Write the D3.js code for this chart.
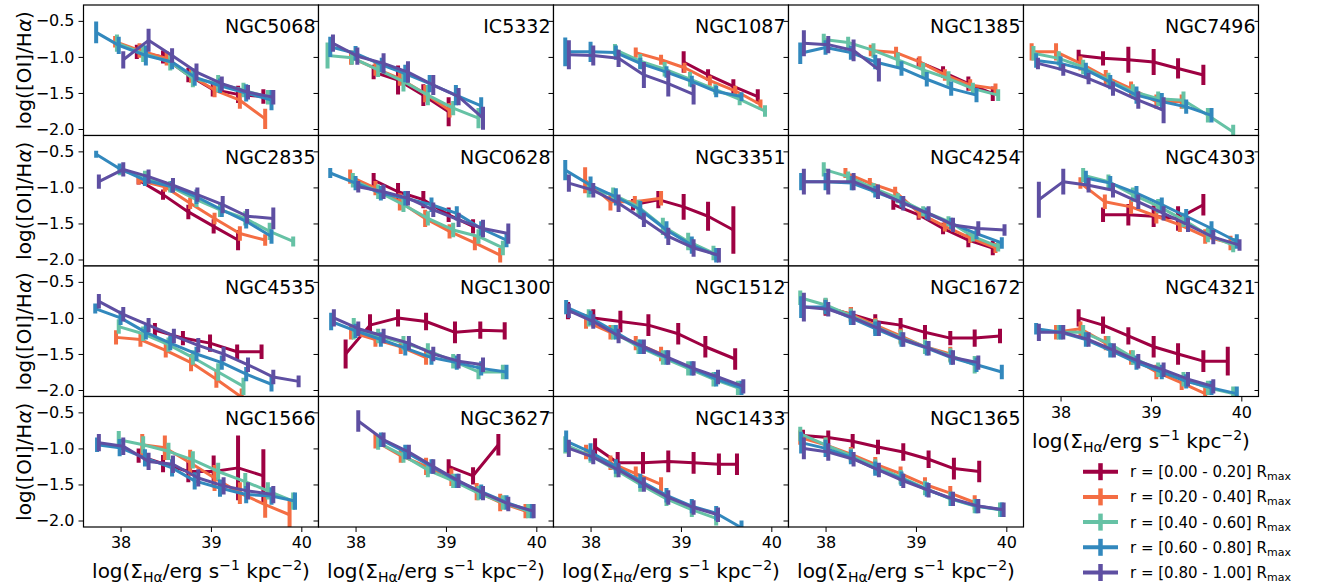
<!DOCTYPE html>
<html><head><meta charset="utf-8">
<script src="https://cdn.jsdelivr.net/npm/d3@7"></script>
<style>body{margin:0;background:#fff} text{font-family:"DejaVu Sans",sans-serif;fill:#000}</style>
</head><body><svg id="c" width="1322" height="586"></svg>
<script>
const galaxies = ["NGC5068","IC5332","NGC1087","NGC1385","NGC7496",
  "NGC2835","NGC0628","NGC3351","NGC4254","NGC4303",
  "NGC4535","NGC1300","NGC1512","NGC1672","NGC4321",
  "NGC1566","NGC3627","NGC1433","NGC1365"];
const binLabels = ["0.00 - 0.20","0.20 - 0.40","0.40 - 0.60","0.60 - 0.80","0.80 - 1.00"];
const colors = ["#9e0142","#f46d43","#66c2a5","#3288bd","#5e4fa2"];
const xTicks = [38,39,40];
const yTicks = [-0.5,-1.0,-1.5,-2.0];
// each galaxy: 5 radial bins, each a list of [log Sigma_Ha, log([OI]/Ha), error]
const NGC5068 = [
 [[38.18,-0.93,0.1],[38.47,-1.0,0.09],[38.75,-1.25,0.1],[39.02,-1.45,0.1],[39.30,-1.52,0.12],[39.58,-1.55,0.1]],
 [[37.94,-0.79,0.08],[38.21,-0.91,0.1],[38.51,-1.02,0.1],[38.78,-1.26,0.1],[39.04,-1.46,0.1],[39.32,-1.60,0.12],[39.60,-1.86,0.14]],
 [[37.96,-0.81,0.12],[38.25,-0.95,0.12],[38.55,-1.07,0.12],[38.80,-1.30,0.12],[39.08,-1.37,0.12],[39.36,-1.46,0.1],[39.63,-1.56,0.1]],
 [[37.73,-0.66,0.15],[37.98,-0.84,0.12],[38.28,-0.98,0.14],[38.57,-1.07,0.1],[38.82,-1.28,0.12],[39.10,-1.40,0.1],[39.39,-1.50,0.12],[39.67,-1.60,0.14]],
 [[38.03,-1.04,0.12],[38.31,-0.77,0.16],[38.57,-0.98,0.1],[38.84,-1.21,0.12],[39.12,-1.37,0.1],[39.41,-1.49,0.1],[39.69,-1.56,0.1]]];
const IC5332 = [
 [[38.20,-1.21,0.1],[38.47,-1.32,0.2],[38.75,-1.53,0.15],[39.03,-1.76,0.2]],
 [[37.95,-1.01,0.1],[38.22,-1.16,0.1],[38.49,-1.30,0.1],[38.77,-1.51,0.12],[39.04,-1.74,0.1]],
 [[37.69,-0.98,0.18],[37.96,-1.01,0.1],[38.25,-1.18,0.1],[38.53,-1.34,0.14],[38.80,-1.53,0.14],[39.08,-1.71,0.1],[39.36,-1.85,0.14]],
 [[37.72,-0.86,0.14],[38.0,-0.95,0.1],[38.29,-1.11,0.1],[38.55,-1.23,0.12],[38.82,-1.37,0.12],[39.11,-1.53,0.14],[39.39,-1.68,0.12]],
 [[37.75,-0.81,0.12],[38.02,-0.99,0.12],[38.31,-1.09,0.14],[38.58,-1.21,0.15],[38.86,-1.39,0.14],[39.14,-1.55,0.12],[39.41,-1.85,0.16]]];
const NGC1087 = [
 [[39.03,-1.07,0.15],[39.30,-1.25,0.08],[39.58,-1.41,0.1],[39.85,-1.55,0.1]],
 [[38.50,-0.94,0.07],[38.78,-1.04,0.07],[39.04,-1.15,0.07],[39.32,-1.33,0.07],[39.60,-1.47,0.07],[39.88,-1.66,0.07]],
 [[38.27,-0.90,0.08],[38.55,-1.06,0.1],[38.82,-1.17,0.1],[39.10,-1.31,0.1],[39.38,-1.45,0.07],[39.65,-1.59,0.08],[39.93,-1.75,0.08]],
 [[37.72,-0.93,0.2],[38.0,-0.93,0.14],[38.28,-0.94,0.1],[38.55,-1.09,0.08],[38.84,-1.21,0.08],[39.12,-1.34,0.08],[39.39,-1.48,0.08],[39.67,-1.55,0.06]],
 [[37.76,-0.97,0.2],[38.03,-0.98,0.14],[38.31,-1.02,0.12],[38.59,-1.25,0.18],[38.86,-1.37,0.18],[39.14,-1.52,0.14]]];
const NGC1385 = [
 [[39.03,-1.07,0.06],[39.30,-1.21,0.08],[39.58,-1.37,0.1],[39.85,-1.51,0.1]],
 [[38.50,-0.91,0.08],[38.78,-0.94,0.08],[39.04,-1.07,0.08],[39.32,-1.25,0.08],[39.60,-1.39,0.08],[39.88,-1.44,0.07]],
 [[37.98,-0.76,0.08],[38.25,-0.80,0.08],[38.53,-0.91,0.1],[38.80,-1.04,0.1],[39.08,-1.18,0.1],[39.36,-1.30,0.1],[39.63,-1.44,0.08],[39.91,-1.53,0.08]],
 [[37.72,-0.95,0.15],[38.0,-0.87,0.1],[38.28,-0.94,0.1],[38.55,-1.07,0.1],[38.84,-1.16,0.1],[39.12,-1.31,0.1],[39.39,-1.44,0.1],[39.67,-1.53,0.1]],
 [[37.76,-0.81,0.18],[38.03,-0.83,0.12],[38.31,-0.91,0.15],[38.59,-1.18,0.16]]];
const NGC7496 = [
 [[38.20,-0.98,0.08],[38.47,-1.02,0.1],[38.75,-1.04,0.18],[39.03,-1.07,0.18],[39.30,-1.16,0.14],[39.58,-1.25,0.14]],
 [[37.68,-0.93,0.12],[37.95,-0.93,0.12],[38.22,-1.09,0.1],[38.50,-1.28,0.1],[38.78,-1.44,0.1],[39.06,-1.62,0.1],[39.34,-1.62,0.1]],
 [[37.70,-0.95,0.1],[37.98,-1.02,0.1],[38.25,-1.14,0.1],[38.53,-1.32,0.1],[38.80,-1.48,0.1],[39.08,-1.58,0.1],[39.36,-1.60,0.12],[39.63,-1.81,0.1],[39.91,-2.04,0.1]],
 [[37.73,-1.05,0.1],[38.0,-1.09,0.1],[38.28,-1.18,0.1],[38.55,-1.35,0.1],[38.84,-1.53,0.12],[39.12,-1.62,0.12],[39.39,-1.69,0.1],[39.67,-1.81,0.1]],
 [[37.75,-1.09,0.08],[38.03,-1.18,0.08],[38.31,-1.30,0.08],[38.58,-1.44,0.1],[38.86,-1.60,0.12],[39.14,-1.74,0.18]]];
const NGC2835 = [
 [[38.20,-0.90,0.06],[38.47,-1.10,0.07],[38.75,-1.34,0.1],[39.03,-1.54,0.1],[39.30,-1.73,0.14]],
 [[38.20,-0.90,0.06],[38.49,-0.99,0.07],[38.77,-1.22,0.08],[39.04,-1.43,0.08],[39.32,-1.64,0.1],[39.60,-1.73,0.08]],
 [[37.99,-0.76,0.07],[38.27,-0.85,0.08],[38.55,-0.99,0.08],[38.84,-1.17,0.1],[39.10,-1.31,0.1],[39.38,-1.43,0.1],[39.65,-1.61,0.12],[39.91,-1.75,0.07]],
 [[37.73,-0.54,0.05],[37.99,-0.74,0.07],[38.27,-0.90,0.08],[38.57,-0.99,0.08],[38.84,-1.13,0.1],[39.12,-1.31,0.1],[39.39,-1.47,0.1],[39.67,-1.68,0.1]],
 [[37.76,-0.92,0.1],[38.03,-0.75,0.1],[38.31,-0.85,0.1],[38.58,-0.97,0.1],[38.85,-1.10,0.1],[39.13,-1.24,0.12],[39.40,-1.40,0.1],[39.69,-1.43,0.15]]];
const NGC0628 = [
 [[38.20,-0.90,0.1],[38.47,-1.06,0.12],[38.75,-1.17,0.12],[39.03,-1.38,0.1],[39.30,-1.54,0.1]],
 [[37.94,-0.85,0.1],[38.22,-1.01,0.1],[38.49,-1.20,0.12],[38.77,-1.43,0.12],[39.04,-1.61,0.1],[39.32,-1.77,0.1],[39.60,-1.94,0.1]],
 [[37.97,-0.90,0.1],[38.25,-1.06,0.1],[38.53,-1.24,0.1],[38.80,-1.43,0.1],[39.08,-1.59,0.1],[39.36,-1.68,0.1],[39.63,-1.84,0.1]],
 [[37.72,-0.80,0.07],[38.0,-0.94,0.1],[38.28,-1.08,0.1],[38.55,-1.15,0.1],[38.84,-1.24,0.1],[39.12,-1.36,0.1],[39.39,-1.57,0.1],[39.67,-1.73,0.1]],
 [[38.03,-0.99,0.08],[38.31,-1.06,0.1],[38.58,-1.15,0.1],[38.86,-1.31,0.1],[39.14,-1.45,0.1],[39.41,-1.57,0.12],[39.69,-1.64,0.14]]];
const NGC3351 = [
 [[38.47,-1.24,0.08],[38.75,-1.17,0.12],[39.03,-1.27,0.18],[39.30,-1.40,0.2],[39.58,-1.59,0.33]],
 [[37.94,-0.90,0.18],[38.22,-1.20,0.12],[38.49,-1.20,0.08],[38.78,-1.15,0.1]],
 [[37.98,-1.04,0.1],[38.25,-1.10,0.1],[38.53,-1.27,0.1],[38.80,-1.54,0.12],[39.08,-1.75,0.12],[39.36,-1.91,0.1]],
 [[37.72,-0.76,0.14],[38.0,-0.97,0.12],[38.28,-1.13,0.12],[38.55,-1.31,0.12],[38.84,-1.59,0.12],[39.12,-1.80,0.12],[39.39,-1.94,0.1]],
 [[37.76,-0.94,0.12],[38.03,-1.04,0.1],[38.31,-1.22,0.12],[38.59,-1.45,0.1],[38.86,-1.68,0.12],[39.14,-1.84,0.12],[39.42,-1.94,0.1]]];
const NGC4254 = [
 [[38.75,-1.24,0.07],[39.03,-1.38,0.07],[39.30,-1.57,0.08],[39.58,-1.73,0.1],[39.85,-1.84,0.1]],
 [[38.22,-0.80,0.07],[38.49,-0.94,0.07],[38.77,-1.06,0.07],[39.04,-1.36,0.07],[39.32,-1.54,0.07],[39.60,-1.70,0.07],[39.88,-1.84,0.07]],
 [[37.98,-0.75,0.1],[38.25,-0.85,0.07],[38.53,-1.01,0.07],[38.80,-1.15,0.07],[39.08,-1.33,0.07],[39.36,-1.47,0.07],[39.63,-1.68,0.07],[39.91,-1.82,0.07]],
 [[37.73,-0.92,0.12],[38.0,-0.92,0.12],[38.29,-0.94,0.1],[38.55,-1.06,0.08],[38.84,-1.20,0.08],[39.12,-1.36,0.08],[39.39,-1.50,0.08],[39.67,-1.64,0.08],[39.95,-1.77,0.08]],
 [[37.76,-0.92,0.18],[38.03,-0.92,0.18],[38.31,-0.92,0.12],[38.58,-1.06,0.1],[38.86,-1.22,0.1],[39.14,-1.36,0.1],[39.41,-1.52,0.1],[39.69,-1.57,0.1],[39.98,-1.59,0.08]]];
const NGC4303 = [
 [[38.47,-1.38,0.1],[38.75,-1.38,0.15],[39.03,-1.40,0.15],[39.30,-1.43,0.17],[39.58,-1.24,0.15]],
 [[38.22,-0.94,0.08],[38.49,-1.20,0.1],[38.78,-1.27,0.1],[39.06,-1.40,0.1],[39.32,-1.52,0.1],[39.60,-1.68,0.1],[39.88,-1.77,0.1]],
 [[38.25,-0.83,0.1],[38.53,-0.92,0.1],[38.80,-1.10,0.1],[39.08,-1.26,0.1],[39.36,-1.45,0.1],[39.63,-1.66,0.1],[39.91,-1.80,0.1]],
 [[38.28,-0.87,0.1],[38.55,-0.94,0.1],[38.84,-1.08,0.1],[39.12,-1.24,0.1],[39.39,-1.40,0.1],[39.67,-1.57,0.1],[39.95,-1.75,0.1]],
 [[37.76,-1.17,0.25],[38.03,-0.92,0.18],[38.31,-0.97,0.1],[38.58,-1.04,0.1],[38.86,-1.20,0.1],[39.14,-1.36,0.1],[39.41,-1.52,0.1],[39.69,-1.69,0.1],[39.98,-1.80,0.08]]];
const NGC4535 = [
 [[38.38,-1.17,0.1],[38.69,-1.28,0.1],[38.99,-1.35,0.12],[39.29,-1.47,0.1],[39.56,-1.47,0.1]],
 [[37.95,-1.27,0.1],[38.22,-1.3,0.1],[38.50,-1.45,0.1],[38.78,-1.62,0.12],[39.06,-1.85,0.12],[39.34,-2.1,0.12]],
 [[37.98,-1.12,0.1],[38.25,-1.22,0.1],[38.53,-1.37,0.1],[38.80,-1.55,0.1],[39.08,-1.75,0.12],[39.36,-1.95,0.12]],
 [[37.72,-0.87,0.07],[38.0,-1.0,0.1],[38.28,-1.2,0.1],[38.55,-1.35,0.1],[38.84,-1.5,0.1],[39.12,-1.62,0.1],[39.39,-1.78,0.1],[39.67,-1.92,0.1]],
 [[37.76,-0.77,0.1],[38.03,-0.95,0.1],[38.31,-1.1,0.1],[38.59,-1.25,0.1],[38.86,-1.38,0.1],[39.14,-1.5,0.1],[39.41,-1.65,0.1],[39.69,-1.82,0.1],[39.97,-1.88,0.08]]];
const NGC1300 = [
 [[37.89,-1.5,0.2],[38.16,-1.1,0.15],[38.47,-1.0,0.12],[38.78,-1.05,0.12],[39.10,-1.2,0.15],[39.38,-1.17,0.12],[39.65,-1.18,0.12]],
 [[37.95,-1.2,0.1],[38.22,-1.3,0.1],[38.50,-1.4,0.1],[38.78,-1.55,0.1]],
 [[37.98,-1.15,0.15],[38.25,-1.25,0.1],[38.53,-1.35,0.1],[38.80,-1.45,0.1],[39.08,-1.6,0.1],[39.36,-1.75,0.1],[39.63,-1.75,0.1]],
 [[37.73,-1.05,0.12],[38.0,-1.18,0.1],[38.28,-1.3,0.1],[38.55,-1.42,0.1],[38.84,-1.55,0.1],[39.12,-1.62,0.1],[39.39,-1.7,0.1],[39.67,-1.75,0.1]],
 [[37.76,-1.0,0.12],[38.03,-1.15,0.1],[38.31,-1.25,0.1],[38.59,-1.35,0.1],[38.86,-1.5,0.1],[39.14,-1.6,0.1],[39.41,-1.65,0.1]]];
const NGC1512 = [
 [[37.75,-0.9,0.12],[38.03,-1.0,0.12],[38.33,-1.05,0.15],[38.64,-1.1,0.15],[38.97,-1.22,0.15],[39.27,-1.4,0.15],[39.60,-1.57,0.15]],
 [[37.95,-1.05,0.1],[38.22,-1.2,0.1],[38.50,-1.35,0.1],[38.78,-1.5,0.1]],
 [[37.98,-1.0,0.12],[38.25,-1.2,0.1],[38.53,-1.4,0.1],[38.80,-1.55,0.1],[39.08,-1.7,0.1],[39.36,-1.85,0.1],[39.63,-1.97,0.1]],
 [[37.73,-0.85,0.1],[38.0,-1.0,0.1],[38.28,-1.2,0.1],[38.55,-1.4,0.1],[38.84,-1.55,0.1],[39.12,-1.7,0.1],[39.39,-1.85,0.1],[39.67,-1.97,0.1]],
 [[37.76,-0.9,0.1],[38.03,-1.05,0.1],[38.31,-1.25,0.1],[38.59,-1.4,0.1],[38.86,-1.55,0.1],[39.14,-1.7,0.1],[39.41,-1.82,0.1],[39.69,-1.95,0.1]]];
const NGC1672 = [
 [[38.0,-0.85,0.12],[38.28,-0.95,0.1],[38.55,-1.05,0.1],[38.83,-1.1,0.1],[39.10,-1.2,0.1],[39.38,-1.28,0.1],[39.65,-1.28,0.12],[39.93,-1.25,0.1]],
 [[38.0,-0.85,0.1],[38.28,-0.95,0.1],[38.55,-1.1,0.1],[38.83,-1.25,0.1],[39.10,-1.4,0.1],[39.38,-1.5,0.1]],
 [[37.72,-0.72,0.1],[38.0,-0.82,0.1],[38.28,-0.97,0.1],[38.55,-1.12,0.1],[38.83,-1.27,0.1],[39.10,-1.4,0.1],[39.38,-1.52,0.1],[39.65,-1.65,0.12]],
 [[37.73,-0.85,0.15],[38.0,-0.85,0.1],[38.28,-1.0,0.1],[38.55,-1.15,0.1],[38.84,-1.3,0.1],[39.12,-1.42,0.1],[39.39,-1.55,0.1],[39.67,-1.65,0.1],[39.95,-1.75,0.1]],
 [[37.76,-0.85,0.2],[38.03,-0.88,0.1],[38.31,-1.0,0.1],[38.59,-1.15,0.1],[38.86,-1.3,0.1],[39.14,-1.42,0.1],[39.41,-1.55,0.1],[39.69,-1.62,0.1]]];
const NGC4321 = [
 [[38.20,-1.0,0.12],[38.47,-1.1,0.12],[38.75,-1.25,0.12],[39.03,-1.4,0.15],[39.30,-1.5,0.15],[39.58,-1.6,0.15],[39.85,-1.6,0.2]],
 [[37.95,-1.2,0.1],[38.22,-1.15,0.1],[38.50,-1.35,0.1],[38.78,-1.55,0.1],[39.06,-1.75,0.1],[39.34,-1.9,0.1],[39.60,-2.05,0.1]],
 [[37.98,-1.2,0.1],[38.25,-1.2,0.1],[38.53,-1.35,0.1],[38.80,-1.55,0.1],[39.08,-1.72,0.1],[39.36,-1.85,0.1],[39.63,-1.97,0.1],[39.91,-2.05,0.1]],
 [[37.73,-1.15,0.08],[38.0,-1.2,0.1],[38.28,-1.3,0.1],[38.55,-1.45,0.1],[38.84,-1.62,0.1],[39.12,-1.75,0.1],[39.39,-1.88,0.1],[39.67,-1.97,0.1],[39.95,-2.05,0.1]],
 [[37.76,-1.2,0.12],[38.03,-1.2,0.1],[38.31,-1.3,0.1],[38.59,-1.45,0.1],[38.86,-1.6,0.1],[39.14,-1.72,0.1],[39.41,-1.85,0.1],[39.69,-1.95,0.1]]];
const NGC1566 = [
 [[38.20,-1.10,0.1],[38.47,-1.21,0.12],[38.75,-1.32,0.15],[39.03,-1.32,0.22],[39.30,-1.27,0.45],[39.58,-1.38,0.37]],
 [[38.24,-0.95,0.15],[38.49,-0.99,0.17],[38.77,-1.20,0.18],[39.04,-1.41,0.18],[39.32,-1.62,0.15],[39.60,-1.78,0.18],[39.87,-1.92,0.2]],
 [[37.98,-0.88,0.12],[38.25,-0.95,0.12],[38.53,-1.04,0.12],[38.80,-1.16,0.12],[39.08,-1.32,0.12],[39.38,-1.46,0.12],[39.63,-1.59,0.12],[39.91,-1.73,0.12]],
 [[37.74,-0.95,0.1],[37.99,-0.99,0.12],[38.27,-1.13,0.12],[38.57,-1.27,0.12],[38.82,-1.45,0.12],[39.10,-1.55,0.12],[39.39,-1.64,0.12],[39.67,-1.66,0.12],[39.93,-1.73,0.12]],
 [[37.76,-0.92,0.12],[38.03,-0.97,0.12],[38.31,-1.18,0.12],[38.58,-1.22,0.12],[38.86,-1.41,0.12],[39.14,-1.52,0.12],[39.41,-1.59,0.12],[39.69,-1.64,0.12]]];
const NGC3627 = [
 [[39.03,-1.25,0.1],[39.30,-1.38,0.12],[39.58,-0.95,0.15]],
 [[38.22,-0.9,0.1],[38.50,-1.1,0.1],[38.78,-1.25,0.12],[39.06,-1.4,0.12],[39.34,-1.6,0.12],[39.60,-1.75,0.12],[39.88,-1.87,0.1]],
 [[38.25,-0.92,0.1],[38.53,-1.1,0.1],[38.80,-1.3,0.1],[39.08,-1.45,0.1],[39.36,-1.62,0.1],[39.63,-1.75,0.1],[39.91,-1.87,0.1]],
 [[38.28,-0.88,0.1],[38.55,-1.05,0.1],[38.84,-1.25,0.1],[39.12,-1.45,0.1],[39.39,-1.6,0.1],[39.67,-1.75,0.1],[39.95,-1.87,0.1]],
 [[38.03,-0.62,0.15],[38.31,-0.88,0.1],[38.59,-1.05,0.1],[38.86,-1.25,0.1],[39.14,-1.45,0.1],[39.41,-1.62,0.1],[39.69,-1.77,0.1],[39.97,-1.87,0.1]]];
const NGC1433 = [
 [[38.05,-0.98,0.12],[38.30,-1.2,0.15],[38.58,-1.2,0.15],[38.86,-1.18,0.15],[39.14,-1.2,0.15],[39.42,-1.22,0.15],[39.62,-1.22,0.15]],
 [[37.95,-1.05,0.1],[38.22,-1.2,0.1],[38.50,-1.35,0.1],[38.78,-1.5,0.1]],
 [[37.72,-0.95,0.12],[38.0,-1.1,0.1],[38.28,-1.3,0.1],[38.55,-1.5,0.1],[38.84,-1.7,0.1],[39.12,-1.85,0.1],[39.39,-1.97,0.1]],
 [[37.73,-0.9,0.15],[38.0,-1.05,0.12],[38.28,-1.25,0.1],[38.55,-1.45,0.1],[38.84,-1.65,0.1],[39.12,-1.8,0.1],[39.39,-1.9,0.1],[39.67,-2.1,0.1]],
 [[37.76,-1.0,0.12],[38.03,-1.12,0.1],[38.31,-1.3,0.1],[38.59,-1.5,0.1],[38.86,-1.68,0.1],[39.14,-1.82,0.1],[39.41,-1.92,0.1]]];
const NGC1365 = [
 [[37.75,-0.82,0.08],[38.03,-0.85,0.1],[38.30,-0.9,0.1],[38.58,-0.98,0.1],[38.86,-1.05,0.12],[39.14,-1.15,0.12],[39.42,-1.28,0.15],[39.70,-1.32,0.15]],
 [[37.72,-0.85,0.1],[38.0,-0.95,0.1],[38.28,-1.08,0.1],[38.55,-1.22,0.1],[38.83,-1.35,0.1],[39.10,-1.5,0.1],[39.38,-1.62,0.1],[39.65,-1.75,0.1]],
 [[37.72,-0.8,0.1],[38.0,-0.95,0.1],[38.28,-1.1,0.1],[38.55,-1.25,0.1],[38.83,-1.4,0.1],[39.10,-1.55,0.1],[39.38,-1.7,0.1],[39.65,-1.8,0.1],[39.93,-1.85,0.1]],
 [[37.73,-0.92,0.15],[38.0,-1.0,0.12],[38.28,-1.12,0.1],[38.55,-1.28,0.1],[38.84,-1.42,0.1],[39.12,-1.57,0.1],[39.39,-1.7,0.1],[39.67,-1.8,0.1],[39.95,-1.85,0.1]],
 [[37.76,-1.0,0.15],[38.03,-1.05,0.12],[38.31,-1.15,0.1],[38.59,-1.3,0.1],[38.86,-1.45,0.1],[39.14,-1.58,0.1],[39.41,-1.7,0.1],[39.69,-1.8,0.1],[39.97,-1.85,0.1]]];

const dataByGalaxy = {NGC5068,IC5332,NGC1087,NGC1385,NGC7496,NGC2835,NGC0628,NGC3351,NGC4254,NGC4303,
  NGC4535,NGC1300,NGC1512,NGC1672,NGC4321,NGC1566,NGC3627,NGC1433,NGC1365};

const svg = d3.select("#c");
const L0 = 83.5, T0 = 5, PW = 235, PH = 130.5, NCOL = 5;
const xDomain = [37.59, 40.19], yDomain = [-2.09, -0.28];
const fmt = d3.format(".1f");

function xLabel(g, x, y) {
  const t = g.append("text").attr("x", x).attr("y", y).attr("text-anchor", "middle").style("font-size", "20px");
  t.append("tspan").text("log(Σ");
  t.append("tspan").attr("baseline-shift", "-4").style("font-size", "14px").text("Hα");
  t.append("tspan").text("/erg s");
  t.append("tspan").attr("baseline-shift", "8").style("font-size", "14px").text("−1");
  t.append("tspan").text(" kpc");
  t.append("tspan").attr("baseline-shift", "8").style("font-size", "14px").text("−2");
  t.append("tspan").text(")");
}

galaxies.forEach((name, i) => {
  const col = i % NCOL, row = Math.floor(i / NCOL);
  const L = L0 + col * PW, T = T0 + row * PH;
  const x = d3.scaleLinear().domain(xDomain).range([L, L + PW]);
  const y = d3.scaleLinear().domain(yDomain).range([T + PH, T]);
  const g = svg.append("g");
  g.append("rect").attr("x", L).attr("y", T).attr("width", PW).attr("height", PH).attr("fill", "#fff");
  const cid = "clip" + i;
  g.append("clipPath").attr("id", cid).append("rect").attr("x", L).attr("y", T).attr("width", PW).attr("height", PH);
  const plot = g.append("g").attr("clip-path", `url(#${cid})`);
  const line = d3.line().x(d => x(d[0])).y(d => y(d[1]));
  dataByGalaxy[name].forEach((ser, k) => {
    plot.append("path").attr("d", line(ser)).attr("fill", "none").attr("stroke", colors[k]).attr("stroke-width", 3).attr("stroke-linejoin", "round");
    plot.selectAll(null).data(ser).enter().append("line")
      .attr("x1", d => x(d[0])).attr("x2", d => x(d[0]))
      .attr("y1", d => y(d[1] - d[2])).attr("y2", d => y(d[1] + d[2]))
      .attr("stroke", colors[k]).attr("stroke-width", 4);
  });
  if (col === 0) {
    const ay = g.append("g").attr("transform", `translate(${L},0)`)
      .call(d3.axisLeft(y).tickValues(yTicks).tickSize(5).tickPadding(4).tickFormat(fmt));
    ay.select(".domain").remove();
    ay.selectAll("text").style("font-size", "16px").attr("font-family", "DejaVu Sans");
    const yl = g.append("text").attr("transform", `translate(31,${T + PH / 2}) rotate(-90)`)
      .attr("text-anchor", "middle").style("font-size", "20px");
    yl.append("tspan").text("log([OI]/H");
    yl.append("tspan").style("font-style", "italic").text("α");
    yl.append("tspan").text(")");
  } else {
    const ay = g.append("g").attr("transform", `translate(${L},0)`)
      .call(d3.axisLeft(y).tickValues(yTicks).tickSize(5).tickFormat(""));
    ay.select(".domain").remove();
  }
  if (col === NCOL - 1) {
    const ar = g.append("g").attr("transform", `translate(${L + PW},0)`)
      .call(d3.axisLeft(y).tickValues(yTicks).tickSize(4).tickFormat(""));
    ar.select(".domain").remove();
  }
  const isBottom = row === 3 || (row === 2 && col === 4);
  if (isBottom) {
    const ax = g.append("g").attr("transform", `translate(0,${T + PH})`)
      .call(d3.axisBottom(x).tickValues(xTicks).tickSize(5).tickPadding(5).tickFormat(d3.format("d")));
    ax.select(".domain").remove();
    ax.selectAll("text").style("font-size", "16px").attr("font-family", "DejaVu Sans");
    xLabel(g, L + PW / 2, T + PH + 51);
  }
  g.append("rect").attr("x", L).attr("y", T).attr("width", PW).attr("height", PH)
    .attr("fill", "none").attr("stroke", "#000").attr("stroke-width", 1.2);
  g.append("text").attr("x", L + PW - 3).attr("y", T + 28).attr("text-anchor", "end")
    .style("font-size", "19px").text(name);
});

const leg = svg.append("g");
const legY = d3.scalePoint().domain(binLabels).range([471.7, 572.5]);
binLabels.forEach((lab, k) => {
  const yy = legY(lab);
  leg.append("line").attr("x1", 1083).attr("x2", 1118).attr("y1", yy).attr("y2", yy).attr("stroke", colors[k]).attr("stroke-width", 4);
  leg.append("line").attr("x1", 1100.5).attr("x2", 1100.5).attr("y1", yy - 8.5).attr("y2", yy + 8.5).attr("stroke", colors[k]).attr("stroke-width", 4.5);
  const t = leg.append("text").attr("x", 1130).attr("y", yy + 5.5).style("font-size", "15px");
  t.append("tspan").text(`r = [${lab}] R`);
  t.append("tspan").attr("baseline-shift", "-3").style("font-size", "11px").text("max");
});
</script></body></html>
